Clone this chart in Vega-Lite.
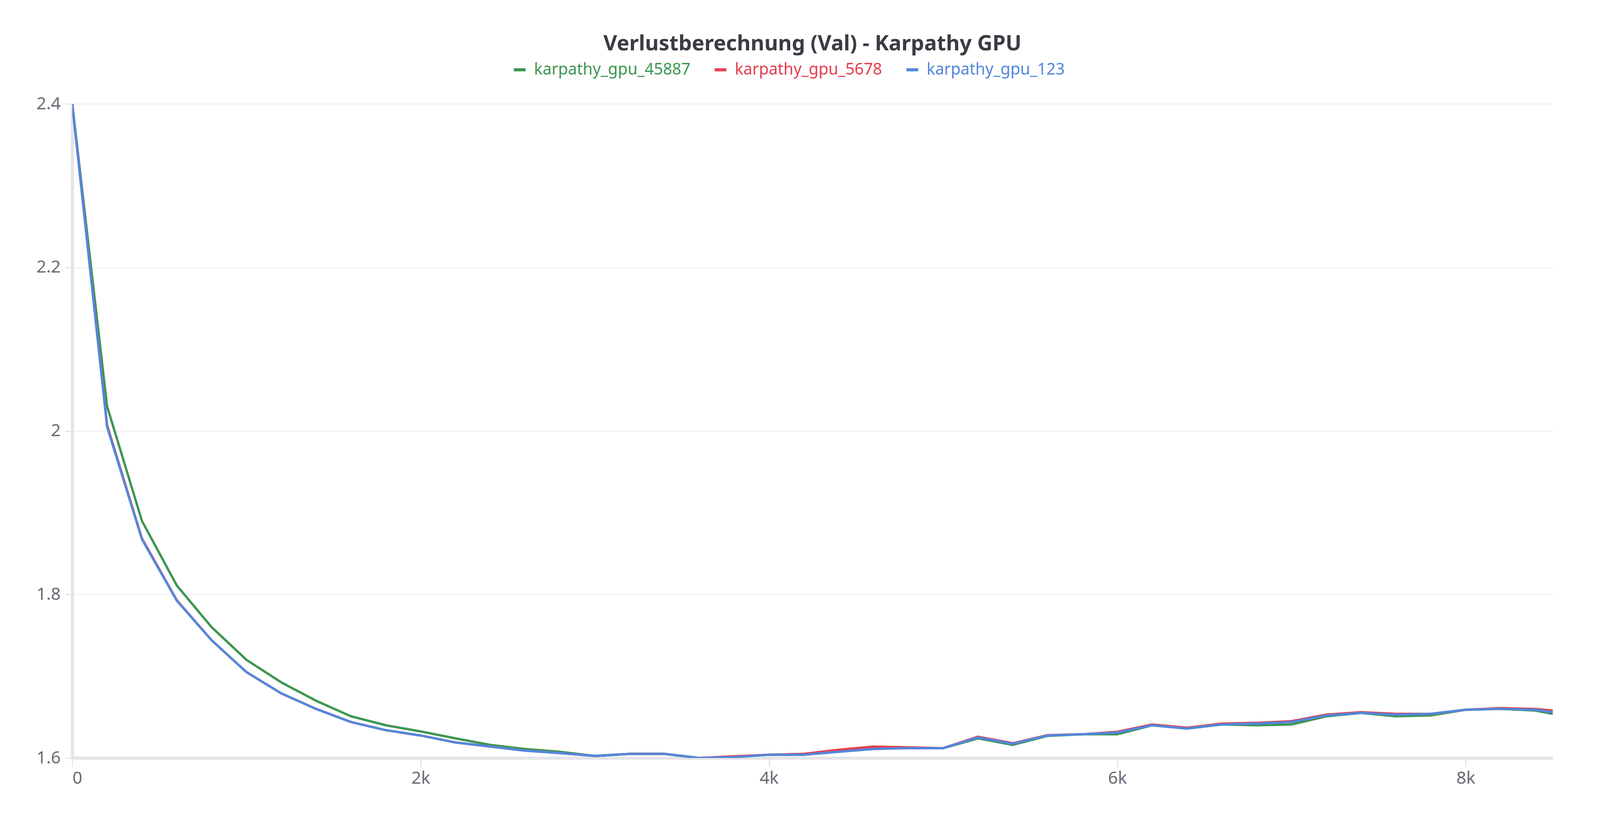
{
  "$schema": "https://vega.github.io/schema/vega-lite/v6.json",
  "width": 3790,
  "height": 1675,
  "autosize": "none",
  "padding": {"left": 185, "top": 266, "right": 75, "bottom": 140},
  "title": {
    "text": "Verlustberechnung (Val) - Karpathy GPU",
    "font": "Noto Sans",
    "fontSize": 54,
    "fontWeight": "bold",
    "color": "#3b3b45",
    "anchor": "middle",
    "offset": 18
  },
  "data": {
    "values": [
      {"step": 0, "b": 2.4, "r": 2.4, "g": 2.4},
      {"step": 200, "b": 2.005, "r": 2.007, "g": 2.03},
      {"step": 400, "b": 1.8675, "r": 1.8685, "g": 1.89},
      {"step": 600, "b": 1.7925, "r": 1.793, "g": 1.811},
      {"step": 800, "b": 1.744, "r": 1.744, "g": 1.76},
      {"step": 1000, "b": 1.705, "r": 1.705, "g": 1.72},
      {"step": 1200, "b": 1.679, "r": 1.679, "g": 1.6925},
      {"step": 1400, "b": 1.66, "r": 1.66, "g": 1.67},
      {"step": 1600, "b": 1.644, "r": 1.644, "g": 1.651},
      {"step": 1800, "b": 1.634, "r": 1.634, "g": 1.64},
      {"step": 2000, "b": 1.6275, "r": 1.6275, "g": 1.6325},
      {"step": 2200, "b": 1.619, "r": 1.619, "g": 1.624},
      {"step": 2400, "b": 1.614, "r": 1.614, "g": 1.616},
      {"step": 2600, "b": 1.609, "r": 1.609, "g": 1.611},
      {"step": 2800, "b": 1.606, "r": 1.606, "g": 1.6075},
      {"step": 3000, "b": 1.6025, "r": 1.6025, "g": 1.6025},
      {"step": 3200, "b": 1.605, "r": 1.605, "g": 1.605},
      {"step": 3400, "b": 1.605, "r": 1.605, "g": 1.605},
      {"step": 3600, "b": 1.6, "r": 1.6, "g": 1.6},
      {"step": 3800, "b": 1.601, "r": 1.602, "g": 1.601},
      {"step": 4000, "b": 1.604, "r": 1.604, "g": 1.604},
      {"step": 4200, "b": 1.604, "r": 1.605, "g": 1.604},
      {"step": 4400, "b": 1.6075, "r": 1.61, "g": 1.608},
      {"step": 4600, "b": 1.611, "r": 1.614, "g": 1.612},
      {"step": 4800, "b": 1.612, "r": 1.613, "g": 1.612},
      {"step": 5000, "b": 1.612, "r": 1.612, "g": 1.612},
      {"step": 5200, "b": 1.625, "r": 1.626, "g": 1.624},
      {"step": 5400, "b": 1.6175, "r": 1.618, "g": 1.616},
      {"step": 5600, "b": 1.6275, "r": 1.628, "g": 1.627},
      {"step": 5800, "b": 1.629, "r": 1.629, "g": 1.629},
      {"step": 6000, "b": 1.631, "r": 1.632, "g": 1.629},
      {"step": 6200, "b": 1.64, "r": 1.641, "g": 1.64},
      {"step": 6400, "b": 1.636, "r": 1.637, "g": 1.636},
      {"step": 6600, "b": 1.641, "r": 1.642, "g": 1.641},
      {"step": 6800, "b": 1.642, "r": 1.643, "g": 1.640},
      {"step": 7000, "b": 1.644, "r": 1.645, "g": 1.641},
      {"step": 7200, "b": 1.652, "r": 1.653, "g": 1.651},
      {"step": 7400, "b": 1.655, "r": 1.656, "g": 1.655},
      {"step": 7600, "b": 1.653, "r": 1.654, "g": 1.651},
      {"step": 7800, "b": 1.654, "r": 1.654, "g": 1.652},
      {"step": 8000, "b": 1.659, "r": 1.659, "g": 1.659},
      {"step": 8200, "b": 1.66, "r": 1.661, "g": 1.66},
      {"step": 8400, "b": 1.659, "r": 1.66, "g": 1.658},
      {"step": 8500, "b": 1.656, "r": 1.658, "g": 1.654}
    ]
  },
  "transform": [
    {"fold": ["g", "r", "b"], "as": ["key", "loss"]},
    {"calculate": "datum.key == 'g' ? 'karpathy_gpu_45887' : datum.key == 'r' ? 'karpathy_gpu_5678' : 'karpathy_gpu_123'", "as": "run"},
    {"calculate": "datum.key == 'g' ? 0 : datum.key == 'r' ? 1 : 2", "as": "ord"}
  ],
  "mark": {"type": "line", "strokeWidth": 6, "clip": true},
  "encoding": {
    "x": {
      "field": "step",
      "type": "quantitative",
      "scale": {"domain": [0, 8500], "nice": false},
      "axis": {
        "title": null,
        "values": [0, 2000, 4000, 6000, 8000],
        "labelExpr": "datum.value == 0 ? '0' : (datum.value / 1000) + 'k'",
        "grid": false,
        "domainColor": "#e4e4e8",
        "domainWidth": 8,
        "tickColor": "#e4e4e8",
        "tickWidth": 3,
        "tickSize": 22,
        "labelPadding": 8,
        "labelFont": "Noto Sans",
        "labelFontSize": 44,
        "labelColor": "#6b6b76"
      }
    },
    "y": {
      "field": "loss",
      "type": "quantitative",
      "scale": {"domain": [1.6, 2.4], "nice": false, "zero": false},
      "axis": {
        "title": null,
        "values": [1.6, 1.8, 2.0, 2.2, 2.4],
        "labelExpr": "datum.value == 2 ? '2' : format(datum.value, '.1f')",
        "gridColor": "#ececef",
        "gridWidth": 2,
        "domainColor": "#e4e4e8",
        "domainWidth": 8,
        "tickColor": "#e4e4e8",
        "tickWidth": 3,
        "tickSize": 18,
        "labelPadding": 12,
        "labelFont": "Noto Sans",
        "labelFontSize": 44,
        "labelColor": "#6b6b76"
      }
    },
    "color": {
      "field": "run",
      "type": "nominal",
      "scale": {
        "domain": ["karpathy_gpu_45887", "karpathy_gpu_5678", "karpathy_gpu_123"],
        "range": ["#3e9651", "#e5404f", "#5387dd"]
      },
      "legend": {
        "title": null,
        "orient": "none",
        "direction": "horizontal",
        "legendX": 1125,
        "legendY": -108,
        "symbolType": "stroke",
        "symbolStrokeWidth": 8,
        "symbolSize": 900,
        "labelFont": "Noto Sans",
        "labelFontSize": 41,
        "labelLimit": 0,
        "columnPadding": 45,
        "labelOffset": 16,
        "encode": {"labels": {"update": {"fill": {"scale": "color", "field": "value"}}}}
      }
    },
    "order": {"field": "ord"},
    "detail": {"field": "run"}
  },
  "config": {"view": {"stroke": null}}
}
